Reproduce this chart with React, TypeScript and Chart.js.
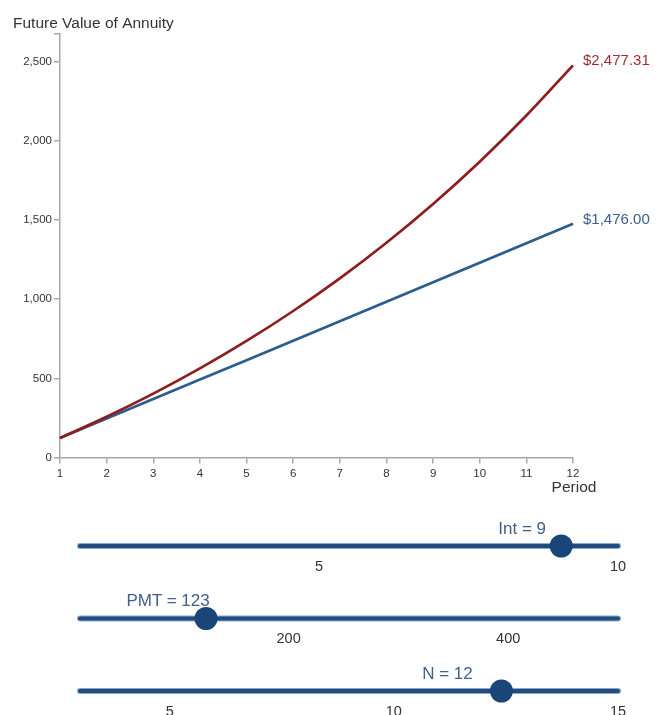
import React, { useEffect, useRef } from "react";
import { Chart, registerables } from "chart.js";

Chart.register(...registerables);

// ---------- data ----------
const periods = ["1", "2", "3", "4", "5", "6", "7", "8", "9", "10", "11", "12"];
const futureValue = [123, 257.07, 403.21, 562.5, 736.12, 925.37, 1131.65, 1356.5, 1601.59, 1868.73, 2159.92, 2477.31];
const totalPaid = [123, 246, 369, 492, 615, 738, 861, 984, 1107, 1230, 1353, 1476];
const yTickValues = [0, 500, 1000, 1500, 2000, 2500];
const yAxisMax = 2675;

const chartTitle = "Future Value of Annuity";
const xAxisTitle = "Period";

// sliders
const sliderNames = ["Int", "PMT", "N"];
const sliderValues = [9, 123, 12];
const sliderHandleAt = [9.05, 124.8, 12.4];
const sliderMins = [1, 10, 3];
const sliderMaxs = [10, 500, 15];
const sliderTicks = [[5, 10], [200, 400], [5, 10, 15]];

const FONT = '"Liberation Sans", Arial, Helvetica, sans-serif';
const RED = "#8e1d1d";
const BLUE = "#2d5c8e";
const AXIS = "#a8a8a8";

const fmtMoney = (v: number) =>
  "$" + v.toLocaleString("en-US", { minimumFractionDigits: 2, maximumFractionDigits: 2 });

const annotPlugin = {
  id: "annot",
  afterDraw(chart: any) {
    const { ctx, scales } = chart;
    const x = scales.x;
    const y = scales.y;
    ctx.save();
    ctx.fillStyle = "#333";
    ctx.font = `15.5px ${FONT}`;
    ctx.textAlign = "left";
    ctx.textBaseline = "alphabetic";
    ctx.fillText(chartTitle, 13, 28);
    ctx.textAlign = "center";
    ctx.fillText(xAxisTitle, x.right + 1, 492);

    // end labels
    ctx.font = `15px ${FONT}`;
    ctx.textAlign = "left";
    ctx.textBaseline = "middle";
    chart.data.datasets.forEach((ds: any) => {
      const last = ds.data.length - 1;
      const px = x.getPixelForValue(last);
      const py = y.getPixelForValue(ds.data[last]);
      ctx.fillStyle = ds.labelColor;
      ctx.fillText(fmtMoney(ds.data[last]), px + 10, py - 4);
    });
    ctx.restore();
  },
};

function FVChart() {
  const ref = useRef<HTMLCanvasElement | null>(null);
  useEffect(() => {
    if (!ref.current) return;
    const chart = new Chart(ref.current, {
      type: "line",
      data: {
        labels: periods,
        datasets: [
          {
            label: "Future Value",
            data: futureValue,
            borderColor: RED,
            borderWidth: 2.7,
            pointRadius: 0,
            cubicInterpolationMode: "monotone",
            fill: false,
            labelColor: "#9e2f2f",
          } as any,
          {
            label: "Total Payments",
            data: totalPaid,
            borderColor: BLUE,
            borderWidth: 2.7,
            pointRadius: 0,
            tension: 0,
            fill: false,
            labelColor: "#3a5f8e",
          } as any,
        ],
      },
      options: {
        animation: false,
        responsive: false,
        events: [],
        layout: { padding: { left: 0, right: 83, top: 34, bottom: 0 } },
        plugins: { legend: { display: false }, tooltip: { enabled: false }, title: { display: false } },
        scales: {
          x: {
            type: "category",
            offset: false,
            grid: { display: true, drawOnChartArea: false, drawTicks: true, tickLength: 6, color: AXIS, lineWidth: 1.5 },
            border: { display: true, color: AXIS, width: 1.5 },
            ticks: { color: "#333", font: { size: 11.5, family: FONT }, padding: 3, maxRotation: 0, autoSkip: false },
            afterFit: (s: any) => {
              s.height = 42.5;
            },
          },
          y: {
            type: "linear",
            min: 0,
            max: yAxisMax,
            grid: { display: true, drawOnChartArea: false, drawTicks: true, tickLength: 6, color: AXIS, lineWidth: 1.5 },
            border: { display: true, color: AXIS, width: 1.5 },
            ticks: {
              autoSkip: false,
              color: "#333",
              font: { size: 11.5, family: FONT },
              padding: 2,
              callback: (v: any) => (yTickValues.includes(Number(v)) ? Number(v).toLocaleString("en-US") : ""),
            },
            afterBuildTicks: (s: any) => {
              s.ticks = [...yTickValues, yAxisMax].map((v) => ({ value: v }));
            },
            afterFit: (s: any) => {
              s.width = 60;
            },
          },
        },
      },
      plugins: [annotPlugin],
    });
    return () => chart.destroy();
  }, []);
  return (
    <canvas
      ref={ref}
      width={656}
      height={500}
      style={{ position: "absolute", left: 0, top: 0, width: 656, height: 500 }}
    />
  );
}

function Sliders() {
  const trackLeft = 80;
  const trackRight = 618;
  const trackYs = [546, 618.5, 691];
  return (
    <svg
      width={656}
      height={715}
      style={{ position: "absolute", left: 0, top: 0, pointerEvents: "none" }}
    >
      {sliderNames.map((name, i) => {
        const sx = (v: number) =>
          trackLeft + ((v - sliderMins[i]) / (sliderMaxs[i] - sliderMins[i])) * (trackRight - trackLeft);
        const ty = trackYs[i];
        return (
          <g key={name}>
            <line x1={trackLeft} x2={trackRight} y1={ty} y2={ty} stroke="#8ea9c6" strokeWidth={6} strokeLinecap="round" />
            <line x1={trackLeft} x2={trackRight} y1={ty} y2={ty} stroke="#1f4d80" strokeWidth={4} strokeLinecap="round" />
            {sliderTicks[i].map((t) => (
              <text
                key={t}
                x={sx(t)}
                y={ty + 24.5}
                textAnchor="middle"
                fontFamily={FONT}
                fontSize={14.5}
                fill="#333"
              >
                {t}
              </text>
            ))}
            <text
              x={sx(sliderValues[i]) - 36}
              y={ty - 12.5}
              textAnchor="middle"
              fontFamily={FONT}
              fontSize={17}
              fill="#41608a"
            >
              {`${name} = ${sliderValues[i]}`}
            </text>
            <circle cx={sx(sliderHandleAt[i])} cy={ty} r={11.5} fill="#1a4578" />
          </g>
        );
      })}
    </svg>
  );
}

export default function App() {
  return (
    <div style={{ position: "absolute", left: 0, top: 0, width: 656, height: 715, background: "#fff" }}>
      <FVChart />
      <Sliders />
    </div>
  );
}
